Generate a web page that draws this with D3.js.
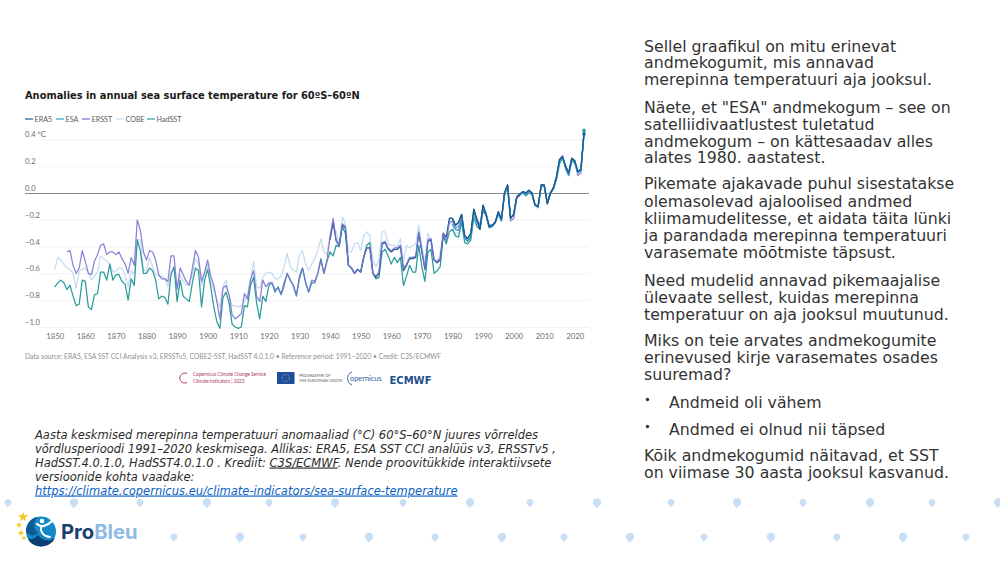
<!DOCTYPE html>
<html><head><meta charset="utf-8">
<script src="https://cdn.jsdelivr.net/npm/d3@7/dist/d3.min.js"></script>
<style>
html,body{margin:0;padding:0;background:#fff;overflow:hidden}
svg{display:block}
.body{font-family:"DejaVu Sans";font-size:15.75px;fill:#333}
.cap{font-family:"DejaVu Sans";font-size:11.5px;font-style:italic;fill:#2b2b2b}
.ch{font-family:Lato,sans-serif}
</style></head><body>
<svg id="s" width="1000" height="563"></svg>
<script>
const title = "Anomalies in annual sea surface temperature for 60ºS–60ºN";
const xTicks = [1850,1860,1870,1880,1890,1900,1910,1920,1930,1940,1950,1960,1970,1980,1990,2000,2010,2020];
const yTicks = [0.4,0.2,0,-0.2,-0.4,-0.6,-0.8,-1.0];
const seriesNames = ["ERA5","ESA","ERSST","COBE","HadSST"];
const seriesColors = {ERA5:"#1b5a8c",ESA:"#2f9cc6",ERSST:"#7b70d2",COBE:"#c4dcf0",HadSST:"#2a9c9a"};
const hadsstValues = [
-.70,-.67,-.65,-.67,-.72,-.69,-.77,-.84,-.83,-.65,
-.66,-.85,-.87,-.76,-.75,-.59,-.59,-.65,-.53,-.65,
-.61,-.61,-.66,-.68,-.80,-.64,-.69,-.35,-.43,-.60,
-.60,-.56,-.58,-.65,-.79,-.77,-.78,-.83,-.61,-.55,
-.81,-.65,-.77,-.79,-.81,-.67,-.56,-.58,-.85,-.65,
-.57,-.70,-.85,-.96,-1.01,-.78,-.74,-.82,-.98,-1.00,
-1.01,-1.00,-.84,-.85,-.69,-.63,-.82,-.94,-.77,-.81,
-.69,-.67,-.74,-.70,-.76,-.69,-.60,-.65,-.69,-.77,
-.64,-.56,-.67,-.74,-.67,-.67,-.60,-.49,-.60,-.51,
-.44,-.47,-.39,-.40,-.25,-.30,-.54,-.56,-.60,-.57,
-.59,-.48,-.39,-.37,-.60,-.64,-.63,-.44,-.42,-.47,
-.53,-.48,-.52,-.48,-.69,-.62,-.54,-.59,-.59,-.39,
-.55,-.66,-.44,-.42,-.60,-.58,-.55,-.32,-.38,-.29,
-.27,-.32,-.33,-.22,-.37,-.38,-.35,-.18,-.25,-.27,
-.13,-.17,-.26,-.25,-.22,-.16,-.20,-.02,.06,-.18,
-.17,-.03,-.01,.00,-.02,.00,-.01,-.09,-.10,.05,
.05,-.07,.00,.03,.10,.22,.26,.20,.14,.24,
.22,.15,.17,.47];
const cobeValues = [
-.57,-.48,-.50,-.53,-.56,-.57,-.60,-.71,-.58,-.57,
-.56,-.59,-.65,-.62,-.59,-.47,-.49,-.51,-.53,-.59,
-.58,-.56,-.56,-.61,-.70,-.58,-.61,-.35,-.35,-.58,
-.58,-.48,-.55,-.61,-.62,-.62,-.64,-.70,-.59,-.56,
-.71,-.61,-.66,-.69,-.67,-.61,-.49,-.53,-.69,-.61,
-.53,-.66,-.72,-.80,-.85,-.70,-.65,-.76,-.84,-.84,
-.85,-.84,-.81,-.76,-.64,-.51,-.70,-.71,-.63,-.60,
-.59,-.60,-.64,-.64,-.62,-.55,-.45,-.55,-.58,-.59,
-.46,-.43,-.53,-.58,-.53,-.49,-.43,-.34,-.44,-.46,
-.30,-.25,-.29,-.38,-.18,-.23,-.44,-.44,-.38,-.37,
-.43,-.32,-.29,-.32,-.50,-.55,-.49,-.29,-.29,-.38,
-.39,-.39,-.40,-.34,-.51,-.39,-.41,-.39,-.38,-.24,
-.39,-.53,-.30,-.38,-.50,-.51,-.45,-.30,-.34,-.20,
-.24,-.30,-.30,-.20,-.33,-.36,-.32,-.13,-.21,-.27,
-.11,-.16,-.25,-.24,-.22,-.15,-.20,-.01,.05,-.18,
-.16,-.03,-.01,.01,-.01,.01,.00,-.08,-.10,.05,
.05,-.07,.00,.03,.11,.23,.26,.19,.15,.24,
.23,.15,.17,.45];
const ersstStart = 1854;
const ersstValues = [
-.44,-.43,-.54,-.60,-.56,-.43,
-.51,-.60,-.61,-.51,-.46,-.39,-.38,-.46,-.44,-.44,
-.46,-.44,-.49,-.53,-.60,-.48,-.54,-.20,-.28,-.44,
-.50,-.43,-.44,-.50,-.61,-.64,-.64,-.66,-.47,-.47,
-.72,-.56,-.61,-.66,-.69,-.56,-.43,-.48,-.66,-.59,
-.50,-.62,-.69,-.81,-.94,-.71,-.69,-.76,-.91,-.94,
-.92,-.90,-.75,-.79,-.65,-.58,-.77,-.81,-.65,-.70,
-.67,-.67,-.72,-.71,-.75,-.67,-.60,-.65,-.69,-.76,
-.62,-.56,-.66,-.74,-.65,-.66,-.60,-.50,-.60,-.50,
-.33,-.19,-.35,-.39,-.23,-.25,-.54,-.56,-.60,-.57,
-.59,-.48,-.41,-.41,-.60,-.62,-.59,-.37,-.36,-.41,
-.43,-.41,-.41,-.39,-.56,-.53,-.48,-.48,-.47,-.29,
-.43,-.56,-.35,-.34,-.50,-.51,-.49,-.30,-.36,-.22,
-.21,-.26,-.25,-.19,-.33,-.36,-.33,-.14,-.19,-.24,
-.10,-.15,-.24,-.24,-.21,-.14,-.20,-.01,.05,-.21,
-.19,-.04,-.02,.01,.00,.01,.00,-.09,-.10,.05,
.05,-.08,.00,.04,.12,.25,.28,.19,.13,.25,
.23,.13,.15,.44];
const era5Start = 1940;
const era5Values = [
-.35,-.22,-.36,-.39,-.24,-.26,-.54,-.56,-.60,-.57,
-.59,-.48,-.41,-.41,-.60,-.63,-.60,-.38,-.37,-.42,
-.44,-.42,-.42,-.40,-.58,-.54,-.49,-.49,-.48,-.30,
-.44,-.57,-.36,-.35,-.50,-.52,-.50,-.30,-.33,-.19,
-.19,-.24,-.22,-.16,-.32,-.34,-.30,-.12,-.20,-.27,
-.09,-.16,-.25,-.24,-.22,-.14,-.20,.00,.06,-.19,
-.16,-.03,-.01,.01,.00,.02,.00,-.09,-.10,.06,
.06,-.08,.00,.04,.12,.25,.27,.20,.15,.26,
.24,.16,.18,.44];
const esaStart = 1980;
const esaValues = [
-.23,-.27,-.28,-.20,-.34,-.36,-.33,-.14,-.22,-.26,
-.11,-.17,-.25,-.25,-.22,-.15,-.21,-.01,.05,-.18,
-.17,-.03,-.01,.00,-.01,.00,-.01,-.09,-.11,.05,
.05,-.08,-.01,.03,.11,.24,.26,.18,.13,.25,
.23,.15,.17,.46];
const rightText = [
 [51.7,"Sellel graafikul on mitu erinevat"],[68.4,"andmekogumit, mis annavad"],[85,"merepinna temperatuuri aja jooksul."],
 [112.7,"Näete, et \"ESA\" andmekogum – see on"],[129.7,"satelliidivaatlustest tuletatud"],[146.7,"andmekogum – on kättesaadav alles"],[163.4,"alates 1980. aastatest."],
 [189.4,"Pikemate ajakavade puhul sisestatakse"],[206.7,"olemasolevad ajaloolised andmed"],[224,"kliimamudelitesse, et aidata täita lünki"],[240.8,"ja parandada merepinna temperatuuri"],[257.7,"varasemate mõõtmiste täpsust."],
 [285.5,"Need mudelid annavad pikemaajalise"],[302.5,"ülevaate sellest, kuidas merepinna"],[319.5,"temperatuur on aja jooksul muutunud."],
 [345.5,"Miks on teie arvates andmekogumite"],[362.5,"erinevused kirje varasemates osades"],[379.5,"suuremad?"],
 [460.5,"Kõik andmekogumid näitavad, et SST"],[477.5,"on viimase 30 aasta jooksul kasvanud."]];
const bullets = [[407.5,"Andmeid oli vähem"],[434.5,"Andmed ei olnud nii täpsed"]];
const dropsTop = [8,74,140,207,269,335,403,470,530,597,671,737,803,870,932,998];
const dropsBottom = [174,240,303,369,435,502,564,630,704,771,837,903,966];

const svg = d3.select("#s");
svg.append("rect").attr("width",1000).attr("height",563).attr("fill","#fff");

// background drops
const dropPath = r => `M0,${-r} C${r*.75},${-r} ${r},${-r*.45} ${r},0 C${r},${r*.55} ${r*.4},${r*.9} ${-r*.25},${r*1.45} C${-r*.1},${r*.9} ${-r},${r*.6} ${-r},0 C${-r},${-r*.5} ${-r*.6},${-r} 0,${-r} Z`;
const drops = svg.append("g").attr("fill","#c9dff5");
dropsTop.forEach((x,i)=>drops.append("path").attr("d",dropPath(i%2?4.2:3.5)).attr("transform",`translate(${x},502.5)`));
dropsBottom.forEach((x,i)=>drops.append("path").attr("d",dropPath(i%2?4.2:3.5)).attr("transform",`translate(${x},537)`));

// chart
const x = d3.scaleLinear().domain([1850,2023]).range([54.7,584]);
const y = d3.scaleLinear().domain([0.4,-1.0]).range([139.4,327]);
const ch = svg.append("g").attr("class","ch");
ch.append("text").attr("x",25).attr("y",99).attr("font-family","DejaVu Sans").attr("font-weight","bold").attr("font-size",9.85).attr("fill","#1a1a1a").text(title);

const yAxis = d3.axisLeft(y).tickValues(yTicks).tickSize(0).tickFormat(d=>d===0.4?"0.4 °C":d3.format(".1f")(d).replace("-","−"));
const ya = ch.append("g").attr("transform","translate(25,0)").call(yAxis);
ya.select(".domain").remove();
ya.selectAll("text").attr("x",0).attr("dy",-2.5).attr("text-anchor","start").attr("font-family","Lato").attr("font-size",7.6).attr("fill","#6e6e6e");
ya.selectAll(".tick").append("line").attr("x1",d=>d===0?0:14).attr("x2",564).attr("y1",0).attr("y2",0)
  .attr("stroke",d=>d===0?"#8a8a8a":"#efefef").attr("stroke-width",d=>d===0?1:.8);

const xa = ch.append("g").attr("transform","translate(0,331)").call(d3.axisBottom(x).tickValues(xTicks).tickSize(0).tickFormat(d3.format("d")));
xa.select(".domain").remove();
xa.selectAll("text").attr("dy",0).attr("y",8).attr("font-family","Lato").attr("font-size",7.8).attr("fill","#6e6e6e");

const toPts = (vals,start)=>vals.map((v,i)=>[start+i,v]);
const seriesData = {COBE:toPts(cobeValues,1850),HadSST:toPts(hadsstValues,1850),ERSST:toPts(ersstValues,ersstStart),ESA:toPts(esaValues,esaStart),ERA5:toPts(era5Values,era5Start)};
const line = d3.line().x(d=>x(d[0])).y(d=>y(d[1]));
const drawLine = (n,pts,op)=>ch.append("path").datum(pts).attr("d",line).attr("fill","none").attr("stroke",seriesColors[n]).attr("stroke-width",1.25).attr("stroke-linejoin","round").attr("opacity",op);
drawLine("COBE",seriesData.COBE,1);
drawLine("HadSST",seriesData.HadSST,1);
drawLine("ERA5",seriesData.ERA5,1);
drawLine("ERSST",seriesData.ERSST,.88);
drawLine("ESA",seriesData.ESA,1);
drawLine("ERA5",seriesData.ERA5.filter(d=>d[0]>=1979),1);
["COBE","ERSST","ESA","HadSST","ERA5"].forEach(n=>{
  const p = seriesData[n][seriesData[n].length-1];
  ch.append("circle").attr("cx",x(p[0])).attr("cy",y(p[1])).attr("r",1.6).attr("fill",seriesColors[n]);
});

// legend
const legendX = [25,56,82,116,147];
seriesNames.forEach((n,i)=>{
  ch.append("line").attr("x1",legendX[i]).attr("x2",legendX[i]+8).attr("y1",119).attr("y2",119).attr("stroke",seriesColors[n]).attr("stroke-width",1.2);
  ch.append("text").attr("x",legendX[i]+9.5).attr("y",121.5).attr("font-size",7.2).attr("fill","#5c5c5c").text(n);
});
ch.append("text").attr("x",25).attr("y",358.5).attr("font-size",6.8).attr("fill","#8f8f8f")
  .text("Data source: ERA5, ESA SST CCI Analysis v3, ERSSTv5, COBE2-SST, HadSST 4.0.1.0 • Reference period: 1991–2020 • Credit: C3S/ECMWF");

// partner marks
const pm = svg.append("g").attr("class","ch");
pm.append("path").attr("d","M187,373.5 A5,5 0 1 0 187,382.5").attr("fill","none").attr("stroke","#a8385c").attr("stroke-width",1);
pm.append("text").attr("x",193).attr("y",376).attr("font-size",4.7).attr("fill","#a8385c").text("Copernicus Climate Change Service");
pm.append("text").attr("x",193).attr("y",382.5).attr("font-size",4.7).attr("fill","#a8385c").text("Climate Indicators | 2023");
pm.append("rect").attr("x",277).attr("y",372).attr("width",17.5).attr("height",12).attr("fill","#1d4f9e");
pm.append("circle").attr("cx",285.7).attr("cy",378).attr("r",3.6).attr("fill","none").attr("stroke","#e8c93a").attr("stroke-width",.7).attr("stroke-dasharray","1 .9");
pm.append("text").attr("x",299).attr("y",377).attr("font-size",3.9).attr("fill","#666").text("PROGRAMME OF");
pm.append("text").attr("x",299).attr("y",382).attr("font-size",3.9).attr("fill","#666").text("THE EUROPEAN UNION");
pm.append("text").attr("x",350).attr("y",381).attr("font-size",7.4).attr("fill","#2a5c9e").text("opernicus");
pm.append("path").attr("d","M352,372 A7,7 0 0 0 352,385").attr("fill","none").attr("stroke","#2a5c9e").attr("stroke-width",.9);
pm.append("text").attr("x",389.5).attr("y",383.5).attr("font-family","DejaVu Sans").attr("font-weight","bold").attr("font-size",10).attr("fill","#1d4f8e").text("ECMWF");

// right text
const rt = svg.append("g");
rightText.forEach(d=>rt.append("text").attr("class","body").attr("x",644).attr("y",d[0]).text(d[1]));
bullets.forEach(d=>{
  rt.append("circle").attr("cx",647.5).attr("cy",d[0]-8).attr("r",1.7).attr("fill","#333");
  rt.append("text").attr("class","body").attr("x",669).attr("y",d[0]).text(d[1]);
});

// caption
const c = svg.append("g");
c.append("text").attr("class","cap").attr("x",35).attr("y",438.5).text("Aasta keskmised merepinna temperatuuri anomaaliad (°C) 60°S–60°N juures võrreldes");
c.append("text").attr("class","cap").attr("x",35).attr("y",452.5).text("võrdlusperioodi 1991–2020 keskmisega. Allikas: ERA5, ESA SST CCI analüüs v3, ERSSTv5 ,");
const l3 = c.append("text").attr("class","cap").attr("x",35).attr("y",466.5);
l3.append("tspan").text("HadSST.4.0.1.0, HadSST4.0.1.0 . Krediit: ");
l3.append("tspan").attr("text-decoration","underline").text("C3S/ECMWF");
l3.append("tspan").text(". Nende proovitükkide interaktiivsete");
c.append("text").attr("class","cap").attr("x",35).attr("y",480.5).text("versioonide kohta vaadake:");
c.append("text").attr("class","cap").attr("x",35).attr("y",494.5).attr("text-decoration","underline").style("fill","#0b62c4").text("https://climate.copernicus.eu/climate-indicators/sea-surface-temperature");

// ProBleu logo
const lg = svg.append("g");
lg.append("circle").attr("cx",41).attr("cy",531.5).attr("r",15).attr("fill","#1589c8");
lg.append("path").attr("d","M28,539 C33,549 50,549 55,538 C50,542 42,541 38,535 C35,539 31,540 28,539 Z").attr("fill","#0c3f70");
lg.append("path").attr("d","M26,531 C26,524 31,518 37,517 C33,522 33,529 38,533 C34,537 28,536 26,531 Z").attr("fill","#0f5a94");
lg.append("path").attr("d","M37,524 C41,528 47,526 52,521").attr("fill","none").attr("stroke","#fff").attr("stroke-width",2.4).attr("stroke-linecap","round");
lg.append("path").attr("d","M41,527 C40,532 44,537 50,537").attr("fill","none").attr("stroke","#fff").attr("stroke-width",1.8).attr("stroke-linecap","round");
lg.append("circle").attr("cx",42).attr("cy",521).attr("r",2.3).attr("fill","#fff");
[[23,517,2.3],[19,525,1.4],[21,533,1.5],[24,538,1.2]].forEach(s=>{
  lg.append("path").attr("d",d3.symbol(d3.symbolStar,s[2]*s[2]*6)()).attr("transform",`translate(${s[0]},${s[1]})`).attr("fill","#f5c518");
});
const pb = lg.append("text").attr("x",61).attr("y",539).attr("font-family","Inter").attr("font-weight","700").attr("font-size",20.2);
pb.append("tspan").attr("fill","#17406f").text("Pro");
pb.append("tspan").attr("fill","#8fbbe6").text("Bleu");
</script>
</body></html>
